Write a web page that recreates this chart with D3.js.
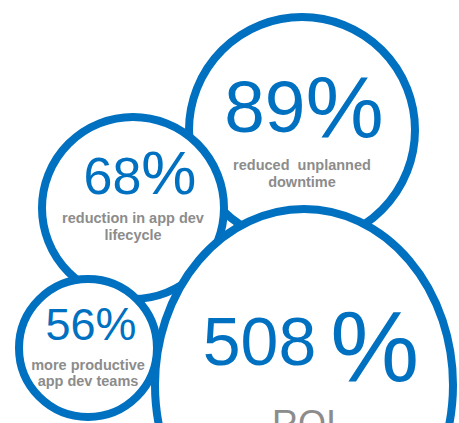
<!DOCTYPE html>
<html>
<head>
<meta charset="utf-8">
<script src="https://cdn.jsdelivr.net/npm/d3@7"></script>
<style>
  body { margin: 0; background: #fff; }
  svg { display: block; }
</style>
</head>
<body>
<div id="chart"></div>
<script>
// figures shown in the bubbles
var values = ["89", "68", "56", "508"];
var units = ["%", "%", "%", "%"];
var captions = [
    ["reduced  unplanned", "downtime"],
    ["reduction in app dev", "lifecycle"],
    ["more productive", "app dev teams"],
    ["ROI"]
];

// bubble placement, drawn back to front
var layout = [
    { cx: 302, cy: 130, rx: 113, ry: 113, numX: 304, numY: 132, numSize: 73, unitSize: 88, unitDy: 5, unitDx: 0, capY: 170, capSize: 14.5, capGap: 17, capWeight: "bold" },
    { cx: 133, cy: 208, rx: 91, ry: 91, numX: 140, numY: 194, numSize: 52, unitSize: 62, unitDy: 0, unitDx: 0, capY: 223, capSize: 14.5, capGap: 17, capWeight: "bold" },
    { cx: 88, cy: 348, rx: 69, ry: 69, numX: 91, numY: 340, numSize: 45, unitSize: 46, unitDy: 0, unitDx: 0, capY: 370, capSize: 14.5, capGap: 16, capWeight: "bold" },
    { cx: 304, cy: 385, rx: 149, ry: 176, numX: 311, numY: 365, numSize: 68, unitSize: 100, unitDy: 16, unitDx: 14, capY: 436, capSize: 36, capGap: 0, capWeight: "normal" }
];

var w = 459;
var h = 423;
var blue = "#0070c0";
var grey = "#8c8c8c";
var font = "Arial, 'Liberation Sans', sans-serif";

var svg = d3.select("#chart")
    .append("svg")
    .attr("width", w)
    .attr("height", h);

var data = values.map(function (v, i) {
    return { value: v, unit: units[i], caption: captions[i], pos: layout[i] };
});

var bubble = svg.selectAll("g.bubble")
    .data(data)
    .enter()
    .append("g")
    .attr("class", "bubble");

bubble.append("ellipse")
    .attr("cx", function (d) { return d.pos.cx; })
    .attr("cy", function (d) { return d.pos.cy; })
    .attr("rx", function (d) { return d.pos.rx; })
    .attr("ry", function (d) { return d.pos.ry; })
    .attr("fill", "#fff")
    .attr("stroke", blue)
    .attr("stroke-width", 8);

// big number with its % sign
var num = bubble.append("text")
    .attr("x", function (d) { return d.pos.numX; })
    .attr("y", function (d) { return d.pos.numY; })
    .attr("text-anchor", "middle")
    .attr("font-family", font)
    .attr("fill", blue);

num.append("tspan")
    .attr("font-size", function (d) { return d.pos.numSize; })
    .text(function (d) { return d.value; });

num.append("tspan")
    .attr("font-size", function (d) { return d.pos.unitSize; })
    .attr("dx", function (d) { return d.pos.unitDx; })
    .attr("dy", function (d) { return d.pos.unitDy; })
    .text(function (d) { return d.unit; });

// grey caption lines
bubble.each(function (d) {
    var g = d3.select(this);
    g.selectAll("text.cap")
        .data(d.caption)
        .enter()
        .append("text")
        .attr("class", "cap")
        .attr("x", d.pos.cx)
        .attr("y", function (t, i) { return d.pos.capY + i * d.pos.capGap; })
        .attr("text-anchor", "middle")
        .attr("font-family", font)
        .attr("font-size", d.pos.capSize)
        .attr("font-weight", d.pos.capWeight)
        .attr("fill", grey)
        .style("white-space", "pre")
        .text(function (t) { return t; });
});
</script>
</body>
</html>
